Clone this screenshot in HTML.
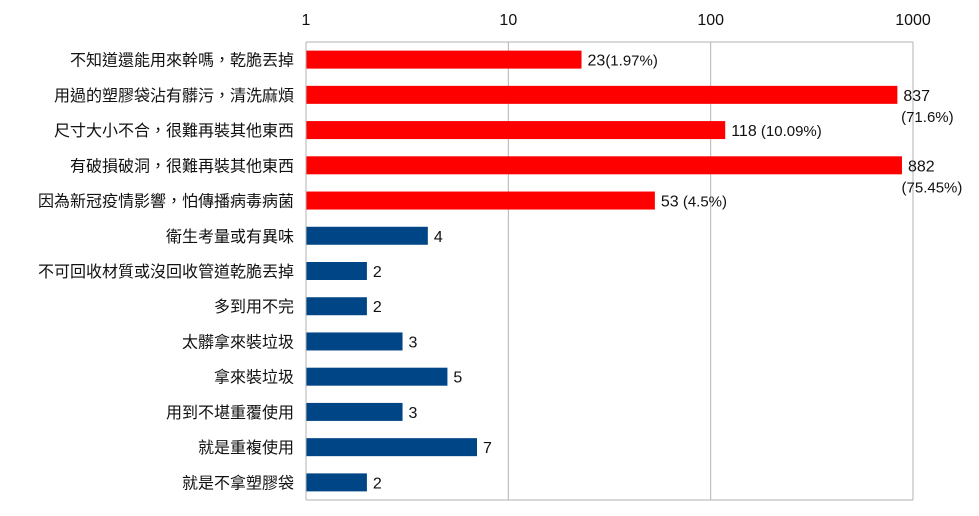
<!DOCTYPE html>
<html><head><meta charset="utf-8"><style>
body{margin:0;background:#fff}
svg text{font-family:"Liberation Sans","Noto Sans CJK TC",sans-serif;fill:#111}
</style></head><body>
<svg id="chart" width="979" height="511" xmlns="http://www.w3.org/2000/svg"></svg>
<script>
const categories=["不知道還能用來幹嗎，乾脆丟掉","用過的塑膠袋沾有髒污，清洗麻煩","尺寸大小不合，很難再裝其他東西","有破損破洞，很難再裝其他東西","因為新冠疫情影響，怕傳播病毒病菌","衛生考量或有異味","不可回收材質或沒回收管道乾脆丟掉","多到用不完","太髒拿來裝垃圾","拿來裝垃圾","用到不堪重覆使用","就是重複使用","就是不拿塑膠袋"];
const values=[23,837,118,882,53,4,2,2,3,5,3,7,2];
const percents=["1.97%","71.6%","10.09%","75.45%","4.5%","","","","","","","",""];
const tickValues=[1,10,100,1000];
const tickLabels=["1","10","100","1000"];
const NS="http://www.w3.org/2000/svg";
const svgEl=document.getElementById('chart');
const x0=306,x1=913,plotTop=42,plotBottom=500;
function xs(v){return x0+(x1-x0)*Math.log10(v)/3;}
const rowH=(plotBottom-plotTop)/categories.length;
function yc(i){return plotTop+rowH*(i+0.5);}
function mk(t,a){const e=document.createElementNS(NS,t);for(const k in a)e.setAttribute(k,a[k]);svgEl.appendChild(e);return e;}
tickValues.forEach((v,i)=>{
 const g=mk('line',{x1:xs(v),x2:xs(v),y1:plotTop,y2:plotBottom,stroke:'#b3b3b3','stroke-width':1});
 
 
 const t=mk('text',{x:xs(v),y:25,'text-anchor':'middle','font-size':16});
 t.textContent=tickLabels[i];
 
 
});
const f=mk('line',{x1:x0,x2:x1,y1:plotTop,y2:plotTop,stroke:'#b3b3b3'});


const f2=mk('line',{x1:x0,x2:x1,y1:plotBottom,y2:plotBottom,stroke:'#b3b3b3'});


categories.forEach((c,i)=>{
 const y=yc(i),red=i<5,w=xs(values[i])-x0;
 const r=mk('rect',{x:x0,y:y-9,width:w,height:18,fill:red?'#ff0000':'#004586'});
 
 
 const l=mk('text',{x:x0-12,y:y+6,'text-anchor':'end','font-size':16});
 l.textContent=c;
 
 
 const ex=xs(values[i])+6;
 const vt=mk('text',{x:ex,y:y+6,'font-size':16});
 
 
 vt.textContent=String(values[i]);
 if(percents[i]){
  if(values[i]>500){
   const pt=mk('text',{x:ex+24,y:y+27,'font-size':15,'text-anchor':'middle'});
   pt.textContent='('+percents[i]+')';
   
   
  } else {
   const ts=document.createElementNS(NS,'tspan');
   ts.setAttribute('font-size','15');
   ts.textContent=(values[i]>=50?' ':'')+'('+percents[i]+')';
   vt.appendChild(ts);
  }
 }
});
const ax=mk('line',{x1:x0,x2:x0,y1:plotTop,y2:plotBottom,stroke:'#b3b3b3'});


</script>
</body></html>
